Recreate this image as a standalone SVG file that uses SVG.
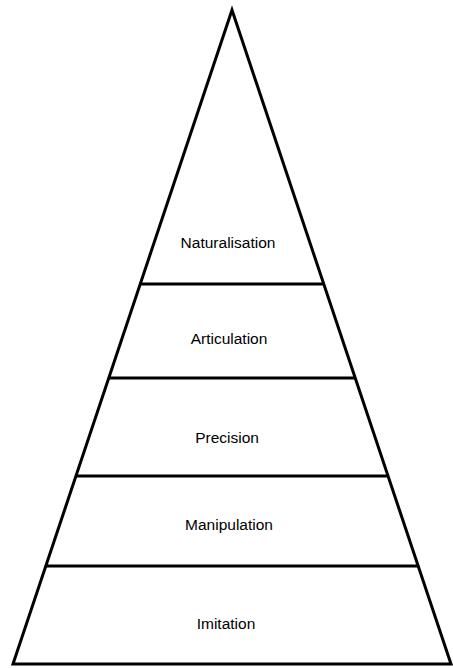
<svg xmlns="http://www.w3.org/2000/svg" width="453" height="668" viewBox="0 0 453 668">
<style>
.edge{fill:none;stroke:#000;stroke-width:3;stroke-linejoin:miter}
.lbl{font-family:"Liberation Sans",Arial,sans-serif;font-size:15.5px;fill:#000;text-anchor:middle}
</style>
<rect width="453" height="668" fill="#fff"/>
<g id="connectors">
<polygon class="edge" points="232,10 13,664 451,664"/>
<line class="edge" x1="140" y1="284" x2="324" y2="284"/>
<line class="edge" x1="109" y1="378" x2="356" y2="378"/>
<line class="edge" x1="76" y1="476" x2="389" y2="476"/>
<line class="edge" x1="46" y1="566" x2="419" y2="566"/>
</g>
<g id="naturalisation"><text class="lbl" x="228" y="248">Naturalisation</text></g>
<g id="articulation"><text class="lbl" x="229" y="344">Articulation</text></g>
<g id="precision"><text class="lbl" x="227" y="443">Precision</text></g>
<g id="manipulation"><text class="lbl" x="229" y="530">Manipulation</text></g>
<g id="imitation"><text class="lbl" x="226" y="629">Imitation</text></g>
</svg>
